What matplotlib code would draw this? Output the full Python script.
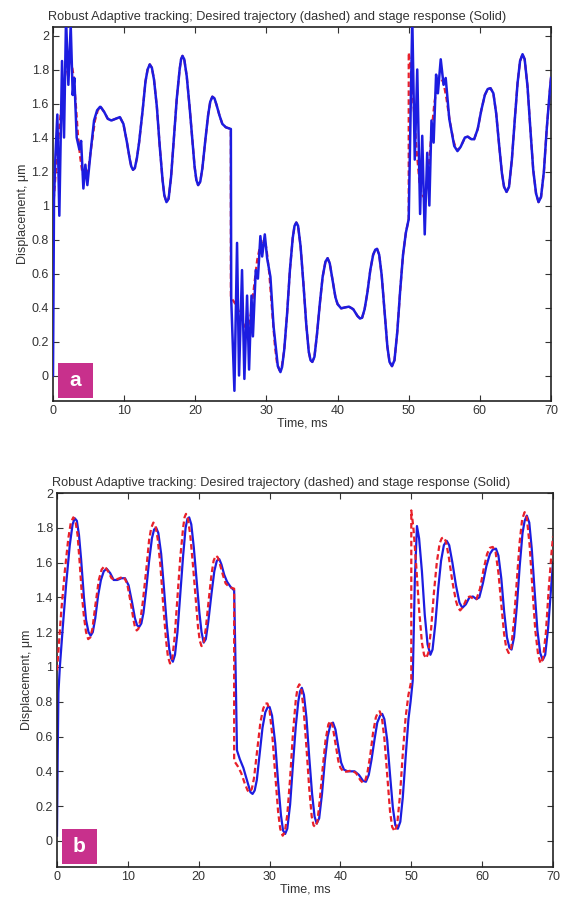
import numpy as np
import matplotlib
matplotlib.use("Agg")
import matplotlib.pyplot as plt
from matplotlib.patches import Rectangle

plt.rcParams['font.family'] = ['Liberation Sans', 'DejaVu Sans']

# desired trajectory (red dashed), same in both panels
des_t = [0.0, 0.2, 0.6, 1.1, 1.6, 1.95, 2.3, 2.6, 2.9, 3.2, 3.5, 3.8, 4.1, 4.4, 4.7, 5.0,
         5.4, 5.9, 6.3, 6.7, 7.2, 7.7, 8.2, 8.8, 9.4, 9.9, 10.4, 10.8, 11.0, 11.25, 11.5,
         11.8, 12.1, 12.6, 13.0, 13.3, 13.6, 13.9, 14.2, 14.6, 15.0, 15.4, 15.65, 15.95,
         16.25, 16.6, 17.0, 17.4, 17.8, 18.0, 18.2, 18.45, 18.8, 19.2, 19.6, 19.9, 20.15,
         20.4, 20.7, 21.0, 21.4, 21.8, 22.1, 22.4, 22.7, 23.0, 23.4, 23.8, 24.3, 25.0,
         25.0, 25.5, 26.0, 26.5, 26.9, 27.2, 27.5, 27.8, 28.2, 28.7, 29.1, 29.4, 29.7, 30.0,
         30.4, 30.8, 31.2, 31.5, 31.85, 32.15, 32.5, 32.9, 33.3, 33.7, 33.95, 34.2, 34.45,
         34.8, 35.2, 35.6, 35.95, 36.2, 36.45, 36.75, 37.1, 37.5, 37.9, 38.3, 38.6, 38.9,
         39.3, 39.7, 40.0, 40.5, 41.0, 41.6, 42.2, 42.8, 43.15, 43.45, 43.8, 44.2, 44.6,
         45.0, 45.3, 45.55, 45.85, 46.2, 46.6, 47.0, 47.3, 47.65, 48.0, 48.4, 48.8, 49.2,
         49.6, 50.0,
         50.0, 50.3, 50.7, 51.1, 51.5, 51.8, 52.1, 52.4, 52.8, 53.2, 53.6, 54.0, 54.3, 54.6,
         54.9, 55.3, 55.8, 56.3, 56.6, 56.9, 57.3, 57.9, 58.3, 58.8, 59.2, 59.7, 60.2, 60.7,
         61.1, 61.5, 61.9, 62.3, 62.7, 63.1, 63.4, 63.75, 64.1, 64.5, 64.9, 65.3, 65.65,
         66.0, 66.3, 66.7, 67.1, 67.5, 67.9, 68.25, 68.6, 69.0, 69.4, 69.8, 70.0]
des_v = [0.98, 1.09, 1.32, 1.55, 1.74, 1.83, 1.86, 1.84, 1.76, 1.60, 1.42, 1.29, 1.20, 1.16,
         1.17, 1.22, 1.35, 1.50, 1.56, 1.58, 1.55, 1.51, 1.50, 1.51, 1.52, 1.48, 1.37, 1.27,
         1.23, 1.21, 1.22, 1.28, 1.37, 1.56, 1.73, 1.80, 1.83, 1.81, 1.74, 1.58, 1.35, 1.15,
         1.06, 1.02, 1.04, 1.17, 1.40, 1.63, 1.80, 1.86, 1.88, 1.86, 1.76, 1.58, 1.38, 1.23,
         1.15, 1.12, 1.14, 1.22, 1.38, 1.53, 1.61, 1.64, 1.63, 1.59, 1.53, 1.48, 1.46, 1.45,
         0.46, 0.43, 0.39, 0.33, 0.29, 0.28, 0.30, 0.36, 0.50, 0.68, 0.76, 0.79, 0.79, 0.75,
         0.60, 0.38, 0.17, 0.07, 0.03, 0.05, 0.15, 0.36, 0.62, 0.81, 0.88, 0.90, 0.88, 0.76,
         0.54, 0.30, 0.14, 0.09, 0.08, 0.11, 0.24, 0.42, 0.58, 0.67, 0.69, 0.66, 0.56, 0.46,
         0.42, 0.395, 0.40, 0.405, 0.39, 0.35, 0.335, 0.34, 0.39, 0.49, 0.62, 0.71, 0.74,
         0.745, 0.71, 0.59, 0.38, 0.17, 0.08, 0.055, 0.09, 0.26, 0.50, 0.71, 0.84, 0.92,
         1.90, 1.80, 1.58, 1.33, 1.14, 1.07, 1.05, 1.08, 1.22, 1.43, 1.60, 1.71, 1.74, 1.745,
         1.72, 1.63, 1.49, 1.38, 1.34, 1.325, 1.345, 1.40, 1.405, 1.39, 1.39, 1.45, 1.56,
         1.65, 1.685, 1.69, 1.66, 1.54, 1.36, 1.19, 1.11, 1.08, 1.11, 1.27, 1.50, 1.72, 1.85,
         1.89, 1.86, 1.70, 1.45, 1.21, 1.07, 1.02, 1.05, 1.20, 1.45, 1.66, 1.75]

# panel a: stage response, oscillating parts after each jump
osc0_t = [0.0, 0.14, 0.35, 0.61, 0.89, 1.27, 1.55, 1.83, 2.16, 2.49, 2.77, 3.0, 3.33, 3.7,
          3.95, 4.27, 4.55, 4.83, 5.3, 5.77, 6.2, 6.6]
osc0_v = [0.0, 1.03, 1.30, 1.535, 0.94, 1.85, 1.40, 2.10, 1.71, 2.06, 1.65, 1.75, 1.40, 1.33,
          1.38, 1.10, 1.24, 1.12, 1.32, 1.50, 1.56, 1.58]
osc25_t = [25.0, 25.05, 25.5, 25.87, 26.15, 26.57, 26.9, 27.28, 27.56, 27.9, 28.1, 28.5, 28.8,
           29.15, 29.4, 29.77, 30.1, 30.56, 31.0, 31.6, 31.97, 32.2]
osc25_v = [1.45, 0.45, -0.09, 0.78, 0.0, 0.62, -0.02, 0.47, 0.035, 0.47, 0.23, 0.62, 0.57,
           0.82, 0.70, 0.83, 0.69, 0.58, 0.29, 0.055, 0.02, 0.05]
osc50_t = [50.0, 50.5, 50.85, 51.2, 51.6, 51.9, 52.25, 52.6, 52.9, 53.2, 53.5, 53.85, 54.1,
           54.5, 54.9, 55.2, 55.7, 56.4, 56.85]
osc50_v = [0.92, 2.10, 1.27, 1.80, 0.95, 1.41, 0.83, 1.31, 1.0, 1.50, 1.37, 1.77, 1.66,
           1.86, 1.71, 1.75, 1.51, 1.35, 1.32]

# panel b: stage response, lagging the desired trajectory
resp_b_t = [0.0, 0.1, 0.2, 0.4, 0.8, 1.3, 1.8, 2.2, 2.5, 2.8, 3.1, 3.4, 3.8, 4.1, 4.45, 4.75,
            5.05, 5.4, 5.8, 6.2, 6.6, 7.0, 7.5, 8.0, 8.5, 9.1, 9.6, 10.1, 10.6, 11.0, 11.3,
            11.6, 11.9, 12.2, 12.6, 13.0, 13.4, 13.7, 14.0, 14.3, 14.7, 15.1, 15.5, 15.85,
            16.1, 16.35, 16.65, 17.0, 17.4, 17.8, 18.15, 18.4, 18.65, 18.95, 19.3, 19.7,
            20.1, 20.4, 20.7, 21.0, 21.35, 21.8, 22.2, 22.55, 22.9, 23.2, 23.6, 24.0, 24.5,
            25.0, 25.2, 25.4, 25.8, 26.3, 26.8, 27.3, 27.6, 27.9, 28.2, 28.6, 29.0, 29.4,
            29.75, 30.0, 30.35, 30.8, 31.2, 31.6, 31.9, 32.2, 32.5, 32.9, 33.3, 33.7, 34.05,
            34.3, 34.55, 34.85, 35.2, 35.6, 36.0, 36.35, 36.65, 37.0, 37.4, 37.8, 38.2, 38.6,
            38.95, 39.3, 39.7, 40.1, 40.5, 41.0, 41.5, 42.0, 42.6, 43.2, 43.6, 44.0, 44.4,
            44.8, 45.2, 45.6, 45.9, 46.2, 46.6, 47.0, 47.4, 47.75, 48.1, 48.45, 48.8, 49.2,
            49.6, 49.9, 50.2, 50.5, 50.8, 51.1, 51.5, 51.9, 52.3, 52.7, 53.0, 53.4, 53.8,
            54.2, 54.6, 55.0, 55.35, 55.8, 56.3, 56.8, 57.2, 57.7, 58.2, 58.7, 59.2, 59.6,
            60.1, 60.6, 61.1, 61.5, 61.95, 62.3, 62.7, 63.1, 63.5, 63.85, 64.15, 64.5, 64.9,
            65.3, 65.7, 66.0, 66.3, 66.65, 67.0, 67.4, 67.8, 68.2, 68.55, 68.9, 69.3, 69.7,
            70.0]
resp_b_v = [0.03, 0.5, 0.85, 1.0, 1.22, 1.48, 1.70, 1.82, 1.855, 1.84, 1.76, 1.62, 1.40, 1.27,
            1.20, 1.18, 1.20, 1.28, 1.41, 1.50, 1.55, 1.565, 1.54, 1.50, 1.50, 1.51, 1.51,
            1.47, 1.37, 1.28, 1.24, 1.23, 1.25, 1.31, 1.45, 1.61, 1.74, 1.79, 1.80, 1.77,
            1.65, 1.45, 1.24, 1.10, 1.05, 1.03, 1.07, 1.20, 1.42, 1.64, 1.80, 1.85, 1.86,
            1.82, 1.69, 1.50, 1.31, 1.20, 1.14, 1.16, 1.26, 1.42, 1.55, 1.61, 1.62, 1.59,
            1.53, 1.49, 1.46, 1.44, 1.0, 0.52, 0.47, 0.42, 0.35, 0.28, 0.27, 0.29, 0.35,
            0.50, 0.65, 0.74, 0.77, 0.77, 0.72, 0.56, 0.34, 0.15, 0.06, 0.04, 0.07, 0.21,
            0.44, 0.66, 0.80, 0.86, 0.88, 0.84, 0.71, 0.48, 0.27, 0.14, 0.10, 0.13, 0.27,
            0.46, 0.60, 0.67, 0.68, 0.64, 0.54, 0.45, 0.41, 0.40, 0.40, 0.40, 0.38, 0.345,
            0.34, 0.38, 0.47, 0.58, 0.68, 0.72, 0.73, 0.70, 0.58, 0.38, 0.19, 0.09, 0.07,
            0.11, 0.25, 0.48, 0.70, 0.80, 0.92, 1.5, 1.81, 1.74, 1.55, 1.30, 1.13, 1.07,
            1.10, 1.25, 1.45, 1.61, 1.70, 1.725, 1.70, 1.60, 1.47, 1.37, 1.34, 1.36, 1.40,
            1.405, 1.39, 1.40, 1.48, 1.58, 1.65, 1.675, 1.68, 1.64, 1.51, 1.32, 1.17, 1.11,
            1.10, 1.17, 1.35, 1.58, 1.77, 1.84, 1.87, 1.83, 1.68, 1.44, 1.21, 1.08, 1.04,
            1.07, 1.22, 1.44, 1.60]

title = "Robust Adaptive tracking: Desired trajectory (dashed) and stage response (Solid)"
title_a = title.replace("tracking:", "tracking;")

BLUE = '#1c1ce0'
RED = '#e8202a'
MAGENTA = '#c8308c'
TXT = '#333333'

# panel a response: oscillating parts + smooth parts that sit on the desired curve
dt = np.array(des_t)
dv = np.array(des_v)
m1 = (dt > 6.6) & (dt < 25)
m2 = (dt > 32.25) & (dt < 50)
m3 = dt > 56.9
resp_a_t = np.concatenate([osc0_t, dt[m1], osc25_t, dt[m2], osc50_t, dt[m3]])
resp_a_v = np.concatenate([osc0_v, dv[m1], osc25_v, dv[m2], osc50_v, dv[m3]])

fig = plt.figure(figsize=(5.66, 8.99), dpi=100)
ax_a = fig.add_axes([53 / 566, 1 - 401 / 899, 498 / 566, 374 / 899])
ax_b = fig.add_axes([57 / 566, 1 - 867 / 899, 496 / 566, 374 / 899])


def style(ax, ttl, ylim, letter, tx):
    ax.set_xlim(0, 70)
    ax.set_ylim(*ylim)
    ax.set_xticks(np.arange(0, 71, 10))
    ax.set_yticks(np.arange(0, 2.01, 0.2))
    ax.set_yticklabels(["0", "0.2", "0.4", "0.6", "0.8", "1", "1.2", "1.4", "1.6", "1.8", "2"])
    ax.tick_params(direction='in', top=True, right=True, labelsize=9, colors=TXT,
                   length=4, width=0.8, pad=3)
    for s in ax.spines.values():
        s.set_linewidth(1.2)
        s.set_color('#222222')
    ax.set_title(ttl, fontsize=9.2, color=TXT, pad=5, x=tx)
    ax.set_xlabel("Time, ms", fontsize=9, color=TXT, labelpad=0)
    ax.set_ylabel("Displacement, \u03bcm", fontsize=9, color=TXT, labelpad=2)
    ax.add_patch(Rectangle((0.010, 0.009), 0.070, 0.093, transform=ax.transAxes,
                           facecolor=MAGENTA, edgecolor='none', zorder=5, clip_on=False))
    ax.text(0.045, 0.055, letter, transform=ax.transAxes, ha='center', va='center',
            color='white', fontsize=15, fontweight='bold', zorder=6)


# panel a
ax_a.plot(des_t, des_v, color=RED, lw=1.6, ls=(0, (2.5, 1.5)), zorder=2)
ax_a.plot(resp_a_t, resp_a_v, color=BLUE, lw=1.8, zorder=3)
style(ax_a, title_a, (-0.15, 2.05), "a", 0.45)

# panel b
ax_b.plot(resp_b_t, resp_b_v, color=BLUE, lw=1.6, zorder=2)
ax_b.plot(des_t, des_v, color=RED, lw=1.6, ls=(0, (2.5, 1.5)), zorder=3)
style(ax_b, title, (-0.15, 2.0), "b", 0.452)

fig.savefig("out.png", dpi=100)
